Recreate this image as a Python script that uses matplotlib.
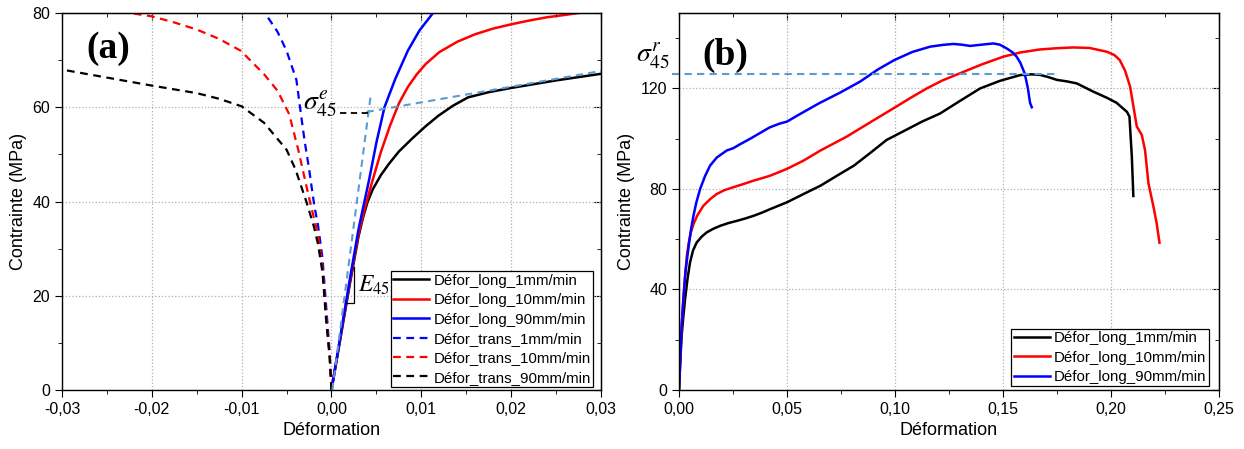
import matplotlib
matplotlib.use('Agg')
import matplotlib.pyplot as plt
from matplotlib.ticker import MultipleLocator, FuncFormatter

plt.rcParams['font.family'] = ['Liberation Sans', 'DejaVu Sans']
plt.rcParams['mathtext.fontset'] = 'stix'

# ---- panel (a) data ----
long_1_x = [0, 0.001, 0.002, 0.003, 0.0035, 0.004, 0.0046, 0.0055, 0.0064, 0.0075, 0.009, 0.0105,
            0.0119, 0.0135, 0.0152, 0.0175, 0.02, 0.0225, 0.025, 0.0275, 0.03]
long_1_y = [0, 11, 22, 32.5, 36.5, 39.8, 42.6, 45.6, 48, 50.6, 53.4, 56,
            58.2, 60.3, 62.1, 63.2, 64.1, 64.9, 65.7, 66.4, 67.1]
long_10_x = [0, 0.001, 0.002, 0.003, 0.0037, 0.0045, 0.0055, 0.0065, 0.0075, 0.0085, 0.0095, 0.0105,
             0.012, 0.014, 0.016, 0.018, 0.02, 0.022, 0.024, 0.026, 0.0275]
long_10_y = [0, 11.2, 22.5, 33, 38.5, 44, 50.5, 56, 60.8, 64.3, 67, 69.2,
             71.7, 73.9, 75.5, 76.7, 77.6, 78.4, 79.1, 79.6, 80]
long_90_x = [0, 0.001, 0.002, 0.003, 0.0035, 0.0042, 0.005, 0.0059, 0.0071, 0.0085, 0.0098, 0.0113]
long_90_y = [0, 11.5, 23, 34, 38.5, 44.7, 52.5, 60, 66, 72, 76.3, 80]
trans_1_x = [0, -0.0002, -0.0006, -0.001, -0.0015, -0.0019, -0.0025, -0.003, -0.0035, -0.0039,
             -0.005, -0.006, -0.0074]
trans_1_y = [0, 8, 18, 28, 35, 39, 47, 53, 60, 65.8, 72, 76, 80]
trans_10_x = [0, -0.0002, -0.0006, -0.001, -0.0015, -0.0024, -0.0037, -0.0047, -0.006, -0.0075,
              -0.0101, -0.0125, -0.015, -0.0175, -0.02, -0.0224]
trans_10_y = [0, 7, 16, 26, 33, 40, 51, 58.5, 63.5, 67, 72, 74.5, 76.5, 78, 79.3, 80]
trans_90_x = [0, -0.0002, -0.0006, -0.001, -0.0015, -0.002, -0.0028, -0.004, -0.005, -0.0075,
              -0.01, -0.0125, -0.015, -0.02, -0.025, -0.03]
trans_90_y = [0, 7, 15, 25, 31, 35, 40, 46.8, 51, 56.7, 60.2, 61.8, 63, 64.6, 66.3, 68]

# ---- panel (b) data ----
b_1_x = [0, 0.0006, 0.0012, 0.002, 0.0028, 0.004, 0.0051, 0.0065, 0.0082, 0.0105, 0.0128, 0.016,
         0.019, 0.0228, 0.0268, 0.0305, 0.0345, 0.0385, 0.0423, 0.046, 0.05, 0.0577, 0.0655,
         0.0732, 0.081, 0.0885, 0.0961, 0.104, 0.1125, 0.1208, 0.13, 0.1394, 0.1485, 0.1579,
         0.163, 0.167, 0.171, 0.1749, 0.1795, 0.1841, 0.1918, 0.198, 0.2025, 0.2073, 0.2085,
         0.2096, 0.2103]
b_1_y = [0, 11, 21.3, 29, 36, 44.5, 50.7, 55.5, 58.7, 61, 62.7, 64.2,
         65.3, 66.4, 67.3, 68.2, 69.3, 70.6, 72, 73.3, 74.7, 78, 81.3,
         85.3, 89.3, 94.3, 99.5, 103, 106.8, 110, 115, 120, 123, 125.3,
         125.6, 125.4, 124.5, 123.4, 122.8, 122, 118.7, 116.3, 114.3, 110.7, 108.8,
         92.8, 77.2]
b_10_x = [0, 0.0006, 0.0013, 0.0022, 0.003, 0.0036, 0.0045, 0.0055, 0.0067, 0.0085, 0.0113, 0.0145,
          0.0175, 0.021, 0.0252, 0.03, 0.0345, 0.0385, 0.0423, 0.046, 0.05, 0.0577, 0.0655,
          0.0776, 0.0885, 0.0995, 0.1075, 0.1147, 0.122, 0.130, 0.14, 0.15, 0.158, 0.167, 0.175,
          0.1826, 0.19, 0.198, 0.2015, 0.204, 0.2065, 0.2088, 0.2103, 0.2119, 0.2142, 0.2157,
          0.2173, 0.2196, 0.2211, 0.2224]
b_10_y = [0, 13, 26, 38, 47, 53, 58.5, 62.7, 66, 69.5, 73.3, 76,
          78, 79.5, 80.7, 82, 83.3, 84.3, 85.3, 86.6, 88, 91.3, 95.3,
          100.8, 106.5, 112.2, 116.4, 120, 123.2, 126, 129.5, 132.6, 134.3, 135.5, 136,
          136.3, 136.1, 134.6, 133.3, 131.3, 127, 120.7, 113, 104.8, 101.5, 95.5,
          82.2, 73, 66.3, 58.6]
b_90_x = [0, 0.0006, 0.0013, 0.002, 0.003, 0.0043, 0.0055, 0.0067, 0.008, 0.0098, 0.012, 0.0144,
          0.0175, 0.0221, 0.0251, 0.0281, 0.033, 0.0374, 0.042, 0.0466, 0.05, 0.0558, 0.0651,
          0.0745, 0.0838, 0.092, 0.0997, 0.108, 0.1162, 0.122, 0.127, 0.131, 0.1347, 0.14,
          0.1455, 0.1485, 0.1517, 0.1545, 0.1563, 0.158, 0.16, 0.1615, 0.1625, 0.1633]
b_90_y = [0, 13, 26, 36, 47, 56, 63.5, 69.3, 74.5, 80, 85, 89.3,
          92.5, 95.3, 96.2, 97.7, 100, 102.2, 104.5, 106, 106.8, 109.7, 114.2,
          118.3, 122.7, 127.5, 131.3, 134.5, 136.6, 137.3, 137.7, 137.4, 136.9, 137.4,
          137.9, 137.4, 135.9, 134.3, 132.6, 130.2, 126, 120, 114.2, 112.5]

# annotation guide lines
tangent_x, tangent_y = [0.0001, 0.0044], [0, 63]
plateau_x, plateau_y = [0.0039, 0.030], [59, 67.7]
yield_x, yield_y = [0.0009, 0.0044], [58.7, 58.7]
slope_x, slope_y = [0.00156, 0.00256, 0.00256], [18.4, 18.4, 26.2]
rupture_x, rupture_y = [-0.0034, 0.1755], [125.8, 125.8]

labels_long = ['Défor_long_1mm/min', 'Défor_long_10mm/min', 'Défor_long_90mm/min']
labels_trans = ['Défor_trans_1mm/min', 'Défor_trans_10mm/min', 'Défor_trans_90mm/min']
guide = '#5b9bd5'
dash = (0, (3.5, 2.5))
lw = 1.8

fig = plt.figure(figsize=(12.44, 4.49), dpi=100)
ax1 = fig.add_axes([0.0498, 0.1314, 0.4333, 0.8396])
ax2 = fig.add_axes([0.5458, 0.1314, 0.4342, 0.8396])


def comma(fmt):
    return FuncFormatter(lambda v, p: (fmt % v).replace('.', ',').replace('-0,00', '0,00'))


def style(ax, xmaj, xmin, ymaj, ymin, xfmt):
    ax.xaxis.set_major_locator(MultipleLocator(xmaj))
    ax.xaxis.set_minor_locator(MultipleLocator(xmin))
    ax.yaxis.set_major_locator(MultipleLocator(ymaj))
    ax.yaxis.set_minor_locator(MultipleLocator(ymin))
    ax.xaxis.set_major_formatter(comma(xfmt))
    ax.grid(True, which='major', linestyle=':', color='#b0b0b0', linewidth=0.9)
    ax.tick_params(which='both', direction='out', labelsize=11.5)
    ax.tick_params(which='major', length=5)
    ax.tick_params(which='minor', length=3)
    top = ax.secondary_xaxis('top')
    top.xaxis.set_major_locator(MultipleLocator(xmaj))
    top.xaxis.set_minor_locator(MultipleLocator(xmin))
    top.tick_params(which='both', direction='in', labeltop=False)
    top.tick_params(which='major', length=5)
    top.tick_params(which='minor', length=3)
    right = ax.secondary_yaxis('right')
    right.yaxis.set_major_locator(MultipleLocator(ymaj))
    right.yaxis.set_minor_locator(MultipleLocator(ymin))
    right.tick_params(which='both', direction='in', labelright=False)
    right.tick_params(which='major', length=5)
    right.tick_params(which='minor', length=3)
    for s in ax.spines.values():
        s.set_linewidth(1.0)
    ax.set_xlabel('Déformation', fontsize=13)
    ax.set_ylabel('Contrainte (MPa)', fontsize=13)


def legend(ax, anchor):
    leg = ax.legend(loc='lower right', bbox_to_anchor=anchor, fontsize=10.8, frameon=True,
                    fancybox=False, edgecolor='black', framealpha=1, handlelength=2.4,
                    labelspacing=0.36, borderpad=0.15, borderaxespad=0, handletextpad=0.3)
    leg.get_frame().set_linewidth(0.9)


# ---- panel (a) ----
ax1.plot(long_1_x, long_1_y, color='black', lw=lw, label=labels_long[0])
ax1.plot(long_10_x, long_10_y, color='red', lw=lw, label=labels_long[1])
ax1.plot(long_90_x, long_90_y, color='blue', lw=lw, label=labels_long[2])
ax1.plot(trans_1_x, trans_1_y, color='blue', lw=1.6, ls=dash, label=labels_trans[0])
ax1.plot(trans_10_x, trans_10_y, color='red', lw=1.6, ls=dash, label=labels_trans[1])
ax1.plot(trans_90_x, trans_90_y, color='black', lw=1.6, ls=dash, label=labels_trans[2])
ax1.plot(tangent_x, tangent_y, color=guide, lw=1.5, ls=dash)
ax1.plot(plateau_x, plateau_y, color=guide, lw=1.5, ls=dash)
ax1.plot(yield_x, yield_y, color='black', lw=1.3, ls=dash)
ax1.plot(slope_x, slope_y, color='black', lw=0.9)
ax1.text(-0.0013, 60.7, r'$\sigma^{e}_{45}$', fontsize=20, ha='center', va='center')
ax1.text(0.0047, 22.3, r'$E_{45}$', fontsize=17, ha='center', va='center')
ax1.text(-0.0249, 72.4, '(a)', fontsize=27, fontweight='bold', family='Liberation Serif',
         ha='center', va='center')
ax1.set_xlim(-0.03, 0.03)
ax1.set_ylim(0, 80)
style(ax1, 0.01, 0.005, 20, 10, '%.2f')
legend(ax1, (0.985, 0.008))

# ---- panel (b) ----
ax2.plot(b_1_x, b_1_y, color='black', lw=lw, label=labels_long[0])
ax2.plot(b_10_x, b_10_y, color='red', lw=lw, label=labels_long[1])
ax2.plot(b_90_x, b_90_y, color='blue', lw=lw, label=labels_long[2])
ax2.plot(rupture_x, rupture_y, color=guide, lw=1.5, ls=dash, clip_on=False)
ax2.text(-0.012, 132.9, r'$\sigma^{r}_{45}$', fontsize=20, ha='center', va='center')
ax2.text(0.0215, 133.3, '(b)', fontsize=27, fontweight='bold', family='Liberation Serif',
         ha='center', va='center')
ax2.set_xlim(0, 0.25)
ax2.set_ylim(0, 150)
style(ax2, 0.05, 0.025, 40, 20, '%.2f')
legend(ax2, (0.981, 0.01))

fig.savefig('out.png', dpi=100)
